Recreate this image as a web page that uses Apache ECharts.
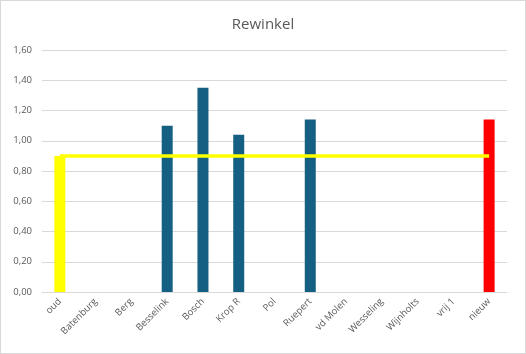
<!DOCTYPE html>
<html>
<head>
<meta charset="utf-8">
<script src="https://cdn.jsdelivr.net/npm/echarts@6/dist/echarts.min.js"></script>
<style>
html,body{margin:0;padding:0;background:#fff;}
#wrap{position:absolute;left:0;top:0;width:524px;height:352px;border:1px solid #d9d9d9;}
#chart{width:524px;height:352px;}
</style>
</head>
<body>
<div id="wrap"><div id="chart"></div></div>
<script>
const categories = ["oud","Batenburg","Berg","Besselink","Bosch","Krop R","Pol","Ruepert","vd Molen","Wesseling","Wijnholts","vrij 1","nieuw"];
const barValues = [0.90, null, null, 1.10, 1.35, 1.04, null, 1.14, null, null, null, null, 1.14];
const refValues = [0.90, 0.90, 0.90, 0.90, 0.90, 0.90, 0.90, 0.90, 0.90, 0.90, 0.90, 0.90, 0.90];
const yTicks = {min: 0, max: 1.6, interval: 0.2};

const chart = echarts.init(document.getElementById('chart'), null, {renderer: 'canvas'});
const fontFam = '"Open Sans", "Noto Sans", sans-serif';
chart.setOption({
  animation: false,
  title: {
    text: 'Rewinkel',
    left: 'center',
    top: 11,
    textStyle: {fontFamily: fontFam, fontSize: 15, fontWeight: 'normal', color: '#595959'}
  },
  grid: {left: 41, right: 18, top: 49, bottom: 61, containLabel: false},
  xAxis: {
    type: 'category',
    data: categories,
    axisLine: {show: true, lineStyle: {color: '#d9d9d9', width: 1}},
    axisTick: {show: false},
    axisLabel: {rotate: 45, color: '#595959', fontFamily: fontFam, fontSize: 9.5, margin: 8, interval: 0}
  },
  yAxis: {
    type: 'value',
    min: yTicks.min,
    max: yTicks.max,
    interval: yTicks.interval,
    axisLine: {show: false},
    axisTick: {show: false},
    splitLine: {lineStyle: {color: '#d9d9d9', width: 1}},
    axisLabel: {
      color: '#595959', fontFamily: fontFam, fontSize: 9.5, margin: 10,
      formatter: v => v.toFixed(2).replace('.', ',')
    }
  },
  series: [
    {
      type: 'bar',
      data: barValues,
      barWidth: 11,
      itemStyle: {
        color: p => p.dataIndex === 0 ? '#ffff00' : (p.dataIndex === categories.length - 1 ? '#ff0000' : '#156082')
      },
      z: 2
    },
    {
      type: 'line',
      data: refValues,
      symbol: 'none',
      lineStyle: {color: '#ffff00', width: 3.5},
      z: 3
    }
  ]
});
</script>
</body>
</html>
